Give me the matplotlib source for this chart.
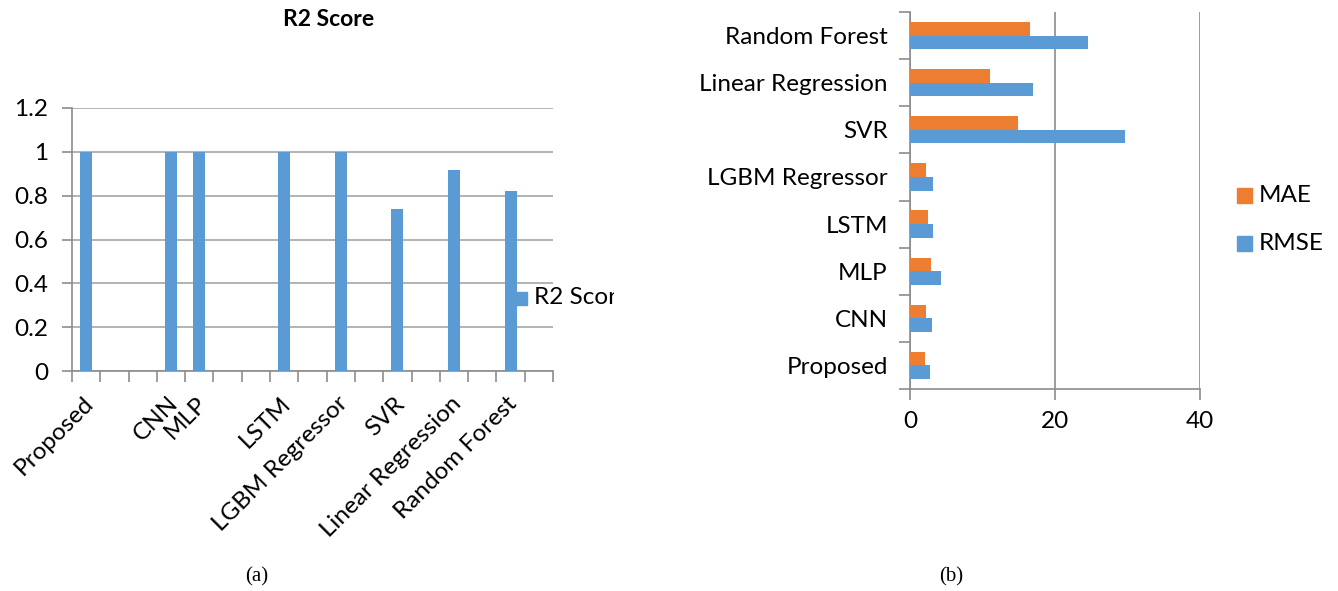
import numpy as np
import matplotlib
matplotlib.use("Agg")
import matplotlib.pyplot as plt
from matplotlib.transforms import Bbox, ScaledTranslation

plt.rcParams['font.family'] = ['Lato', 'DejaVu Sans']

# ---------------- data ----------------
r2_categories = ["Proposed", "", "", "CNN", "MLP", "", "", "LSTM", "",
                 "LGBM Regressor", "", "SVR", "", "Linear Regression", "",
                 "Random Forest", ""]
r2_values = [1.0, np.nan, np.nan, 1.0, 1.0, np.nan, np.nan, 1.0, np.nan,
             1.0, np.nan, 0.74, np.nan, 0.915, np.nan, 0.82, np.nan]

err_models = ["Proposed", "CNN", "MLP", "LSTM", "LGBM Regressor", "SVR",
              "Linear Regression", "Random Forest"]
mae_values = [2.0, 2.25, 2.95, 2.45, 2.15, 14.9, 11.0, 16.6]
rmse_values = [2.75, 3.0, 4.3, 3.15, 3.2, 29.7, 16.9, 24.6]

BLUE = "#5B9BD5"
ORANGE = "#ED7D31"
GRID = "#A6A6A6"
AX = "#8C8C8C"

W, H = 1338, 591
fig = plt.figure(figsize=(W / 100, H / 100), dpi=100)


def px_axes(l, t, r, b):
    return fig.add_axes([l / W, 1 - b / H, (r - l) / W, (b - t) / H])


FS = 17.5

# ---------------- left chart ----------------
ax1 = px_axes(72, 108, 553, 371)
x = np.arange(len(r2_categories))
ax1.bar(x, r2_values, width=0.42, color=BLUE, zorder=3)
ax1.set_xlim(-0.5, len(r2_categories) - 0.5)
ax1.set_ylim(0, 1.2)
ax1.set_yticks(np.arange(0, 1.21, 0.2))
ax1.set_yticklabels(["0", "0.2", "0.4", "0.6", "0.8", "1", "1.2"], fontsize=FS)
ax1.yaxis.grid(True, color=GRID, linewidth=1.2, zorder=0)
for s in ["top", "right"]:
    ax1.spines[s].set_visible(False)
for s in ["left", "bottom"]:
    ax1.spines[s].set_color(AX)
    ax1.spines[s].set_linewidth(1.2)
ax1.tick_params(axis='y', length=7, color=AX, width=1.2, pad=10)
# category boundary ticks
ax1.set_xticks(np.arange(-0.5, len(r2_categories), 1.0), minor=False)
ax1.set_xticklabels([])
ax1.tick_params(axis='x', length=8, color=AX, width=1.2)
ax1.set_xticks(x, minor=True)
ax1.set_xticklabels(r2_categories, minor=True, rotation=45, ha='right',
                    rotation_mode='anchor', fontsize=FS)
ax1.tick_params(axis='x', which='minor', length=0, pad=10)
off = ScaledTranslation(-4 / 100, -8 / 100, fig.dpi_scale_trans)
for lab in ax1.get_xticklabels(minor=True):
    lab.set_transform(lab.get_transform() + off)

fig.text(329 / W, 1 - 20 / H, "R2 Score", fontsize=16.5, fontweight='bold',
         ha='center', va='center')

# left legend (clipped like the reference)
fig.patches.append(plt.Rectangle((515 / W, 1 - 305 / H), 12 / W, 13 / H,
                                 transform=fig.transFigure, color=BLUE))
t = fig.text(534 / W, 1 - 298 / H, "R2 Score", fontsize=FS, ha='left', va='center')
t.set_clip_box(Bbox.from_extents(500, 0, 614, H))
t.set_clip_on(True)

# ---------------- right chart ----------------
ax2 = px_axes(910, 12, 1200, 389)
y = np.arange(len(err_models))
bh = 0.29
ax2.barh(y - bh / 2, rmse_values, height=bh, color=BLUE, label="RMSE", zorder=3)
ax2.barh(y + bh / 2, mae_values, height=bh, color=ORANGE, label="MAE", zorder=3)
ax2.set_xlim(0, 40)
ax2.set_ylim(-0.5, len(err_models) - 0.5)
ax2.set_xticks([0, 20, 40])
ax2.set_xticklabels(["0", "20", "40"], fontsize=FS)
ax2.xaxis.grid(True, color=AX, linewidth=1.2, zorder=0)
for s in ["top", "right"]:
    ax2.spines[s].set_visible(False)
for s in ["left", "bottom"]:
    ax2.spines[s].set_color(AX)
    ax2.spines[s].set_linewidth(1.2)
ax2.tick_params(axis='x', length=8, color=AX, width=1.2, pad=8)
ax2.set_yticks(np.arange(-0.5, len(err_models), 1.0))
ax2.set_yticklabels([])
ax2.tick_params(axis='y', length=8, color=AX, width=1.2)
ax2.set_yticks(y, minor=True)
ax2.set_yticklabels(err_models, minor=True, fontsize=FS)
ax2.tick_params(axis='y', which='minor', length=0, pad=16)

# right legend
for label, col, yc in [("MAE", ORANGE, 195), ("RMSE", BLUE, 243)]:
    fig.patches.append(plt.Rectangle((1237 / W, 1 - (yc + 7.5) / H), 15 / W, 15 / H,
                                     transform=fig.transFigure, color=col))
    fig.text(1259 / W, 1 - yc / H, label, fontsize=FS, ha='left', va='center')

# captions
fig.text(257 / W, 1 - 577 / H, "(a)", fontsize=15, family='Liberation Serif',
         ha='center', va='center')
fig.text(951 / W, 1 - 577 / H, "(b)", fontsize=15, family='Liberation Serif',
         ha='center', va='center')

fig.savefig("out.png", dpi=100, facecolor='white')
